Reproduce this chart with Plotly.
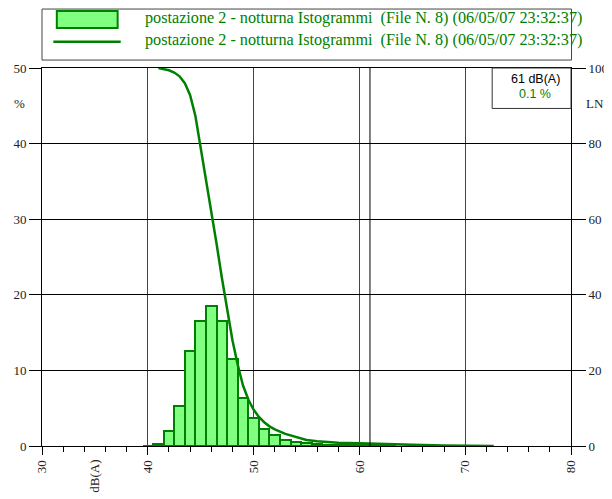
import plotly.graph_objects as go

# ---- data ----
BIN_DB = [40, 41, 42, 43, 44, 45, 46, 47, 48, 49, 50, 51, 52, 53, 54, 55, 56, 57, 58, 59, 60, 61, 62, 63]
BIN_PCT = [0.05, 0.3, 1.95, 5.3, 12.55, 16.5, 18.55, 16.55, 11.45, 6.3, 3.75, 2.3, 1.4, 0.8,
           0.55, 0.37, 0.24, 0.15, 0.12, 0.1, 0.1, 0.1, 0.06, 0.04]

LN_DB = [41.0, 41.5, 42.0, 42.5, 43.0, 43.5, 44.0, 44.5, 45.0, 45.5, 46.0, 46.5, 47.0, 47.5,
         48.0, 48.5, 49.0, 49.5, 50.0, 50.5, 51.0, 51.5, 52.0, 53.0, 54.0, 55.0, 56.0, 57.0,
         58.0, 60.0, 62.0, 65.0, 68.0, 70.0, 72.7]
LN_VAL = [100.0, 99.7, 99.4, 98.8, 97.8, 96.0, 92.8, 87.3, 79.0, 71.0, 62.3, 53.5, 44.5, 36.0,
          28.0, 21.5, 16.0, 12.3, 9.6, 7.7, 6.3, 5.2, 4.4, 3.2, 2.3, 1.6, 1.25, 1.0,
          0.88, 0.7, 0.5, 0.3, 0.15, 0.08, 0.0]

X_TICKS = [30, 40, 50, 60, 70, 80]
CURSOR_DB = 61
CURSOR_PCT = 0.1
SERIES_NAME = "postazione 2 - notturna Istogrammi  (File N. 8) (06/05/07 23:32:37)"

GREEN = "#008000"
FILL = "#80ff80"
SERIF = "Liberation Serif"
SANS = "Liberation Sans"
TXT = "#222222"

fig = go.Figure()
fig.add_trace(go.Bar(x=BIN_DB, y=BIN_PCT, width=1, name=SERIES_NAME,
                     marker=dict(color=FILL, line=dict(color=GREEN, width=2)),
                     showlegend=False))
fig.add_trace(go.Scatter(x=LN_DB, y=LN_VAL, yaxis="y2", mode="lines", name=SERIES_NAME,
                         line=dict(color=GREEN, width=2.5), showlegend=False))

axis_font = dict(family=SERIF, size=13, color=TXT)
fig.update_layout(
    width=604, height=491, autosize=False,
    margin=dict(l=34, r=41, t=60, b=53, pad=0),
    paper_bgcolor="white", plot_bgcolor="white",
    font=dict(family=SERIF, size=13, color=TXT),
    bargap=0,
    xaxis=dict(range=[30, 80], tickvals=X_TICKS, tickangle=-90, tickfont=axis_font,
               ticks="outside", ticklen=8, tickcolor="black",
               minor=dict(dtick=2, ticks="outside", ticklen=5, tickcolor="black", showgrid=False),
               showline=True, linecolor="black", linewidth=1, mirror=True,
               showgrid=True, gridcolor="#444", gridwidth=1, zeroline=False, automargin=False),
    yaxis=dict(range=[0, 50], dtick=10, tickfont=axis_font,
               ticks="outside", ticklen=12, tickcolor="black",
               showline=True, linecolor="black", linewidth=1,
               showgrid=True, gridcolor="black", gridwidth=1, zeroline=False, automargin=False),
    yaxis2=dict(range=[0, 100], dtick=20, overlaying="y", side="right", tickfont=axis_font,
                ticks="outside", ticklen=14, tickcolor="black",
                showline=True, linecolor="black", linewidth=1,
                showgrid=False, zeroline=False, automargin=False),
)

# cursor line
fig.add_shape(type="line", xref="x", yref="paper", x0=CURSOR_DB, x1=CURSOR_DB, y0=0, y1=1,
              line=dict(color="black", width=1))
# cursor box
fig.add_shape(type="rect", xref="paper", yref="paper", x0=0.851, x1=1.0, y0=0.893, y1=1.0,
              line=dict(color="#333", width=1), fillcolor="white")
fig.add_annotation(xref="paper", yref="paper", x=0.932, y=0.971, xanchor="center", yanchor="middle",
                   text=f"{CURSOR_DB} dB(A)", showarrow=False,
                   font=dict(family=SANS, size=12.5, color="black"))
fig.add_annotation(xref="paper", yref="paper", x=0.932, y=0.931, xanchor="center", yanchor="middle",
                   text=f"{CURSOR_PCT} %", showarrow=False,
                   font=dict(family=SANS, size=12.5, color=GREEN))

# axis unit labels
fig.add_annotation(xref="paper", yref="paper", x=-0.0416, y=0.907, xanchor="center", yanchor="middle",
                   text="%", showarrow=False, font=dict(family=SERIF, size=13, color=TXT))
fig.add_annotation(xref="paper", yref="paper", x=1.0454, y=0.905, xanchor="center", yanchor="middle",
                   text="LN", showarrow=False, font=dict(family=SERIF, size=13, color=TXT))
fig.add_annotation(xref="x", yref="paper", x=35, y=-0.030, xanchor="center", yanchor="top",
                   text="dB(A)", textangle=-90, showarrow=False,
                   font=dict(family=SERIF, size=13, color=TXT))

# legend (drawn)
fig.add_shape(type="rect", xref="paper", yref="paper", x0=0.0, x1=1.001, y0=1.021, y1=1.156,
              line=dict(color="#444", width=1), fillcolor="white", layer="below")
fig.add_shape(type="rect", xref="paper", yref="paper", x0=0.028, x1=0.143, y0=1.1058, y1=1.1508,
              line=dict(color=GREEN, width=2), fillcolor=FILL)
fig.add_shape(type="line", xref="paper", yref="paper", x0=0.0214, x1=0.1488, y0=1.0696, y1=1.0696,
              line=dict(color=GREEN, width=2.5))
for yy in (1.1310, 1.0728):
    fig.add_annotation(xref="paper", yref="paper", x=0.1915, y=yy, xanchor="left", yanchor="middle",
                       text=SERIES_NAME, showarrow=False,
                       font=dict(family=SERIF, size=16.2, color=GREEN))

fig.write_html("out.html")
